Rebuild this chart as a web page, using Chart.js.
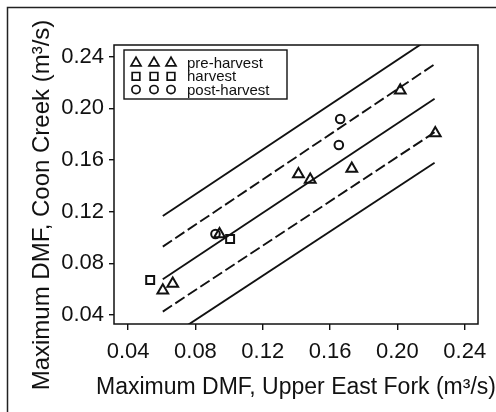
<!DOCTYPE html>
<html>
<head>
<meta charset="utf-8">
<script src="https://cdn.jsdelivr.net/npm/chart.js@4.4.1/dist/chart.umd.min.js"></script>
<style>
  html, body { margin: 0; padding: 0; background: #fff; }
  #wrap { width: 496px; height: 412px; position: relative; }
</style>
</head>
<body>
<div id="wrap"><canvas id="dmfChart" width="496" height="412"></canvas></div>
<script>
// Coon Creek vs Upper East Fork, maximum DMF (m3/s)
const preX = [0.0606, 0.0665, 0.0943, 0.1412, 0.1482, 0.1729, 0.2017, 0.2225];
const preY = [0.0590, 0.0642, 0.1026, 0.1490, 0.1447, 0.1532, 0.2139, 0.1808];
const harvestX = [0.0531, 0.1006];
const harvestY = [0.0671, 0.0988];
const postX = [0.0919, 0.1652, 0.1660];
const postY = [0.1027, 0.1716, 0.1917];

// regression line, confidence band (dashed), prediction band (solid)
const lineX = [0.0606, 0.2221];
const fitY = [0.0677, 0.2074];
const confUpY = [0.0929, 0.2341];
const confLoY = [0.0426, 0.1814];
const predUpY = [0.1166, 0.2566];
const predLoY = [0.0195, 0.1579];

const xTicks = [0.04, 0.08, 0.12, 0.16, 0.20, 0.24];
const yTicks = [0.04, 0.08, 0.12, 0.16, 0.20, 0.24];
const xRange = [0.0316, 0.2479];
const yRange = [0.0330, 0.2490];

const legendLabels = ['pre-harvest', 'harvest', 'post-harvest'];
const xTitle = 'Maximum DMF, Upper East Fork (m\u00B3/s)';
const yTitle = 'Maximum DMF, Coon Creek (m\u00B3/s)';

const FONT = "'Liberation Sans', Arial, sans-serif";
const INK = '#111';

const pts = (xs, ys) => xs.map((x, i) => ({ x, y: ys[i] }));

function lineSet(ys, dashed) {
    return {
        data: pts(lineX, ys), showLine: true, pointRadius: 0,
        borderColor: INK, borderWidth: 1.9, borderDash: dashed ? [11, 4] : [],
        fill: false
    };
}

function markerSet(xs, ys, style, r) {
    return {
        data: pts(xs, ys), pointStyle: style, pointRadius: r, pointHoverRadius: r,
        pointBorderColor: INK, pointBackgroundColor: 'rgba(0,0,0,0)', pointBorderWidth: 2,
        showLine: false
    };
}

// own marker drawing for the legend
function drawMarker(ctx, style, x, y, r) {
    ctx.beginPath();
    if (style === 'triangle') {
        for (let i = 0; i < 3; i++) {
            const a = i * 2 * Math.PI / 3;
            const px = x + Math.sin(a) * r, py = y - Math.cos(a) * r;
            i ? ctx.lineTo(px, py) : ctx.moveTo(px, py);
        }
        ctx.closePath();
    } else if (style === 'rect') {
        const s = r * Math.SQRT1_2;
        ctx.rect(x - s, y - s, 2 * s, 2 * s);
    } else {
        ctx.arc(x, y, r, 0, Math.PI * 2);
    }
    ctx.stroke();
}

const decorPlugin = {
    id: 'decor',
    afterDraw(chart) {
        const { ctx, chartArea: a } = chart;
        ctx.save();
        // figure frame (top and left edges only)
        ctx.strokeStyle = '#222';
        ctx.lineWidth = 1.5;
        ctx.beginPath();
        ctx.moveTo(7.5, 412);
        ctx.lineTo(7.5, 7.5);
        ctx.lineTo(496, 7.5);
        ctx.stroke();

        // plot box
        ctx.strokeStyle = INK;
        ctx.lineWidth = 1.5;
        ctx.strokeRect(a.left, a.top, a.right - a.left, a.bottom - a.top);

        // legend
        const lx = a.left + 10, ly = a.top + 5;
        ctx.fillStyle = '#fff';
        ctx.fillRect(lx, ly, 163, 49);
        ctx.lineWidth = 1.4;
        ctx.strokeRect(lx, ly, 163, 49);
        const styles = [['triangle', 5.8], ['rect', 5.4], ['circle', 4.1]];
        ctx.lineWidth = 1.7;
        ctx.fillStyle = INK;
        ctx.font = '15px ' + FONT;
        ctx.textBaseline = 'middle';
        ctx.textAlign = 'left';
        legendLabels.forEach((lab, i) => {
            const y = ly + 13 + i * 13.3;
            [0, 18, 35].forEach(dx => drawMarker(ctx, styles[i][0], lx + 12 + dx, y, styles[i][1]));
            ctx.fillText(lab, lx + 63, y + 1);
        });

        // axis titles
        ctx.font = '23px ' + FONT;
        ctx.textAlign = 'center';
        ctx.textBaseline = 'middle';
        ctx.fillText(xTitle, (a.left + a.right) / 2, 388);
        ctx.translate(42, 205);
        ctx.rotate(-Math.PI / 2);
        ctx.font = '24px ' + FONT;
        ctx.fillText(yTitle, 0, 0);
        ctx.restore();
    }
};

const axisCommon = {
    type: 'linear',
    border: { display: false },
    grid: { display: true, drawOnChartArea: false, drawTicks: true, tickLength: 5, color: INK, lineWidth: 1.4 },
    ticks: {
        color: INK, font: { family: FONT, size: 22 }, padding: 5,
        callback: v => v.toFixed(2)
    }
};

new Chart(document.getElementById('dmfChart'), {
    type: 'scatter',
    data: {
        datasets: [
            lineSet(predUpY, false),
            lineSet(confUpY, true),
            lineSet(fitY, false),
            lineSet(confLoY, true),
            lineSet(predLoY, false),
            markerSet(preX, preY, 'triangle', 6.2),
            markerSet(harvestX, harvestY, 'rect', 5.6),
            markerSet(postX, postY, 'circle', 4.3)
        ]
    },
    options: {
        responsive: false,
        animation: false,
        events: [],
        layout: { padding: { left: 0, top: 45, right: 18, bottom: 0 } },
        plugins: { legend: { display: false }, tooltip: { enabled: false } },
        scales: {
            x: {
                ...axisCommon,
                min: xRange[0], max: xRange[1],
                grid: { ...axisCommon.grid, tickLength: 6 },
                ticks: { ...axisCommon.ticks, padding: 9, maxRotation: 0 },
                afterBuildTicks: s => { s.ticks = xTicks.map(value => ({ value })); },
                afterFit: s => { s.height = 88; }
            },
            y: {
                ...axisCommon,
                min: yRange[0], max: yRange[1],
                afterBuildTicks: s => { s.ticks = yTicks.map(value => ({ value })); },
                afterFit: s => { s.width = 114; }
            }
        }
    },
    plugins: [decorPlugin]
});
</script>
</body>
</html>
